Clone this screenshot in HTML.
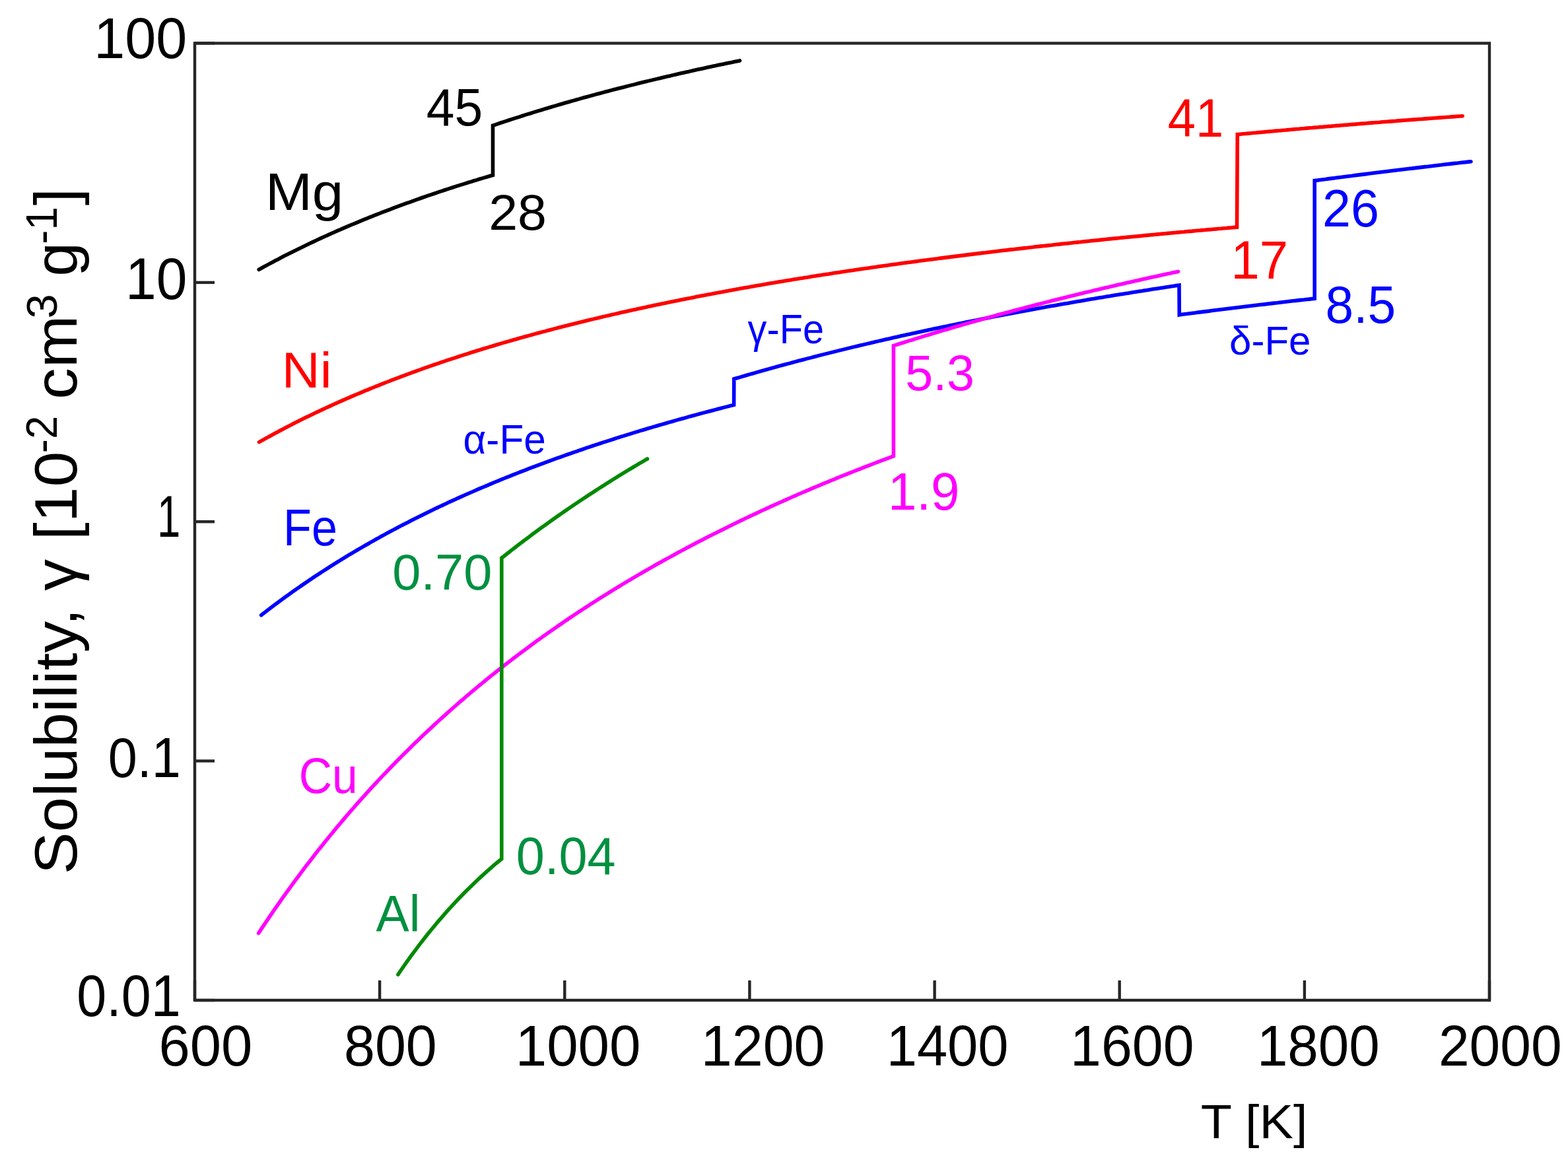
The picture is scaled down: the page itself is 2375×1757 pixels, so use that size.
<!DOCTYPE html><html><head><meta charset="utf-8"><style>html,body{margin:0;padding:0;background:#fff;}svg{display:block;}</style></head><body>
<svg width="2375" height="1757" viewBox="0 0 2375 1757">
<rect width="2375" height="1757" fill="#fff"/>
<g>
<polyline points="392.2,408.3 396.3,406.0 400.3,403.8 404.4,401.6 408.5,399.4 412.6,397.2 416.6,395.0 420.7,392.9 424.8,390.8 428.9,388.6 432.9,386.6 437.0,384.5 441.1,382.4 445.1,380.4 449.2,378.4 453.3,376.4 457.4,374.4 461.4,372.4 465.5,370.5 469.6,368.5 473.6,366.6 477.7,364.7 481.8,362.8 485.9,360.9 489.9,359.0 494.0,357.2 498.1,355.4 502.2,353.5 506.2,351.7 510.3,349.9 514.4,348.2 518.4,346.4 522.5,344.6 526.6,342.9 530.7,341.2 534.7,339.5 538.8,337.8 542.9,336.1 547.0,334.4 551.0,332.7 555.1,331.1 559.2,329.4 563.2,327.8 567.3,326.2 571.4,324.6 575.5,323.0 579.5,321.4 583.6,319.9 587.7,318.3 591.7,316.8 595.8,315.2 599.9,313.7 604.0,312.2 608.0,310.7 612.1,309.2 616.2,307.7 620.3,306.3 624.3,304.8 628.4,303.3 632.5,301.9 636.5,300.5 640.6,299.0 644.7,297.6 648.8,296.2 652.8,294.8 656.9,293.5 661.0,292.1 665.1,290.7 669.1,289.4 673.2,288.0 677.3,286.7 681.3,285.4 685.4,284.0 689.5,282.7 693.6,281.4 697.6,280.1 701.7,278.9 705.8,277.6 709.8,276.3 713.9,275.1 718.0,273.8 722.1,272.6 726.1,271.3 730.2,270.1 734.3,268.9 738.4,267.7 742.4,266.5 746.5,265.3 746.5,190.1 750.6,188.8 754.6,187.4 758.7,186.0 762.8,184.7 766.8,183.3 770.9,182.0 775.0,180.7 779.0,179.4 783.1,178.1 787.2,176.8 791.2,175.5 795.3,174.2 799.3,172.9 803.4,171.7 807.5,170.4 811.5,169.1 815.6,167.9 819.7,166.7 823.7,165.4 827.8,164.2 831.9,163.0 835.9,161.8 840.0,160.6 844.1,159.4 848.1,158.2 852.2,157.0 856.3,155.8 860.3,154.7 864.4,153.5 868.5,152.4 872.5,151.2 876.6,150.1 880.7,148.9 884.7,147.8 888.8,146.7 892.8,145.6 896.9,144.5 901.0,143.4 905.0,142.3 909.1,141.2 913.2,140.1 917.2,139.0 921.3,138.0 925.4,136.9 929.4,135.8 933.5,134.8 937.6,133.7 941.6,132.7 945.7,131.7 949.8,130.6 953.8,129.6 957.9,128.6 962.0,127.6 966.0,126.5 970.1,125.5 974.2,124.5 978.2,123.6 982.3,122.6 986.3,121.6 990.4,120.6 994.5,119.6 998.5,118.7 1002.6,117.7 1006.7,116.7 1010.7,115.8 1014.8,114.9 1018.9,113.9 1022.9,113.0 1027.0,112.0 1031.1,111.1 1035.1,110.2 1039.2,109.3 1043.3,108.4 1047.3,107.4 1051.4,106.5 1055.5,105.6 1059.5,104.8 1063.6,103.9 1067.7,103.0 1071.7,102.1 1075.8,101.2 1079.8,100.3 1083.9,99.5 1088.0,98.6 1092.0,97.8 1096.1,96.9 1100.2,96.0 1104.2,95.2 1108.3,94.4 1112.4,93.5 1116.4,92.7 1120.5,91.9" fill="none" stroke="#000000" stroke-width="5.6" stroke-linejoin="miter" stroke-linecap="round"/>
<polyline points="392.5,669.6 396.5,667.4 400.5,665.1 404.5,662.9 408.6,660.7 412.6,658.5 416.6,656.3 420.6,654.2 424.6,652.0 428.6,649.9 432.6,647.8 436.6,645.7 440.7,643.7 444.7,641.6 448.7,639.6 452.7,637.6 456.7,635.6 460.7,633.6 464.7,631.6 468.8,629.7 472.8,627.7 476.8,625.8 480.8,623.9 484.8,622.0 488.8,620.1 492.8,618.3 496.9,616.4 500.9,614.6 504.9,612.8 508.9,610.9 512.9,609.2 516.9,607.4 520.9,605.6 524.9,603.8 529.0,602.1 533.0,600.4 537.0,598.7 541.0,597.0 545.0,595.3 549.0,593.6 553.0,591.9 557.1,590.3 561.1,588.6 565.1,587.0 569.1,585.4 573.1,583.8 577.1,582.2 581.1,580.6 585.2,579.0 589.2,577.5 593.2,575.9 597.2,574.4 601.2,572.9 605.2,571.3 609.2,569.8 613.2,568.3 617.3,566.9 621.3,565.4 625.3,563.9 629.3,562.5 633.3,561.0 637.3,559.6 641.3,558.2 645.4,556.7 649.4,555.3 653.4,553.9 657.4,552.5 661.4,551.2 665.4,549.8 669.4,548.4 673.4,547.1 677.5,545.7 681.5,544.4 685.5,543.1 689.5,541.8 693.5,540.5 697.5,539.2 701.5,537.9 705.6,536.6 709.6,535.3 713.6,534.0 717.6,532.8 721.6,531.5 725.6,530.3 729.6,529.0 733.7,527.8 737.7,526.6 741.7,525.4 745.7,524.2 749.7,523.0 753.7,521.8 757.7,520.6 761.7,519.4 765.8,518.3 769.8,517.1 773.8,516.0 777.8,514.8 781.8,513.7 785.8,512.5 789.8,511.4 793.9,510.3 797.9,509.2 801.9,508.1 805.9,507.0 809.9,505.9 813.9,504.8 817.9,503.7 821.9,502.6 826.0,501.6 830.0,500.5 834.0,499.5 838.0,498.4 842.0,497.4 846.0,496.3 850.0,495.3 854.1,494.3 858.1,493.3 862.1,492.2 866.1,491.2 870.1,490.2 874.1,489.2 878.1,488.2 882.2,487.3 886.2,486.3 890.2,485.3 894.2,484.3 898.2,483.4 902.2,482.4 906.2,481.5 910.2,480.5 914.3,479.6 918.3,478.6 922.3,477.7 926.3,476.8 930.3,475.9 934.3,474.9 938.3,474.0 942.4,473.1 946.4,472.2 950.4,471.3 954.4,470.4 958.4,469.5 962.4,468.7 966.4,467.8 970.5,466.9 974.5,466.0 978.5,465.2 982.5,464.3 986.5,463.5 990.5,462.6 994.5,461.8 998.5,460.9 1002.6,460.1 1006.6,459.3 1010.6,458.4 1014.6,457.6 1018.6,456.8 1022.6,456.0 1026.6,455.2 1030.7,454.3 1034.7,453.5 1038.7,452.7 1042.7,451.9 1046.7,451.2 1050.7,450.4 1054.7,449.6 1058.7,448.8 1062.8,448.0 1066.8,447.3 1070.8,446.5 1074.8,445.7 1078.8,445.0 1082.8,444.2 1086.8,443.5 1090.9,442.7 1094.9,442.0 1098.9,441.2 1102.9,440.5 1106.9,439.7 1110.9,439.0 1114.9,438.3 1119.0,437.6 1123.0,436.8 1127.0,436.1 1131.0,435.4 1135.0,434.7 1139.0,434.0 1143.0,433.3 1147.0,432.6 1151.1,431.9 1155.1,431.2 1159.1,430.5 1163.1,429.8 1167.1,429.1 1171.1,428.4 1175.1,427.8 1179.2,427.1 1183.2,426.4 1187.2,425.8 1191.2,425.1 1195.2,424.4 1199.2,423.8 1203.2,423.1 1207.3,422.5 1211.3,421.8 1215.3,421.2 1219.3,420.5 1223.3,419.9 1227.3,419.2 1231.3,418.6 1235.3,418.0 1239.4,417.3 1243.4,416.7 1247.4,416.1 1251.4,415.5 1255.4,414.9 1259.4,414.2 1263.4,413.6 1267.5,413.0 1271.5,412.4 1275.5,411.8 1279.5,411.2 1283.5,410.6 1287.5,410.0 1291.5,409.4 1295.5,408.8 1299.6,408.2 1303.6,407.6 1307.6,407.1 1311.6,406.5 1315.6,405.9 1319.6,405.3 1323.6,404.7 1327.7,404.2 1331.7,403.6 1335.7,403.0 1339.7,402.5 1343.7,401.9 1347.7,401.3 1351.7,400.8 1355.8,400.2 1359.8,399.7 1363.8,399.1 1367.8,398.6 1371.8,398.0 1375.8,397.5 1379.8,397.0 1383.8,396.4 1387.9,395.9 1391.9,395.3 1395.9,394.8 1399.9,394.3 1403.9,393.8 1407.9,393.2 1411.9,392.7 1416.0,392.2 1420.0,391.7 1424.0,391.1 1428.0,390.6 1432.0,390.1 1436.0,389.6 1440.0,389.1 1444.1,388.6 1448.1,388.1 1452.1,387.6 1456.1,387.1 1460.1,386.6 1464.1,386.1 1468.1,385.6 1472.1,385.1 1476.2,384.6 1480.2,384.1 1484.2,383.6 1488.2,383.1 1492.2,382.7 1496.2,382.2 1500.2,381.7 1504.3,381.2 1508.3,380.8 1512.3,380.3 1516.3,379.8 1520.3,379.3 1524.3,378.9 1528.3,378.4 1532.3,377.9 1536.4,377.5 1540.4,377.0 1544.4,376.6 1548.4,376.1 1552.4,375.6 1556.4,375.2 1560.4,374.7 1564.5,374.3 1568.5,373.8 1572.5,373.4 1576.5,372.9 1580.5,372.5 1584.5,372.1 1588.5,371.6 1592.6,371.2 1596.6,370.7 1600.6,370.3 1604.6,369.9 1608.6,369.4 1612.6,369.0 1616.6,368.6 1620.6,368.2 1624.7,367.7 1628.7,367.3 1632.7,366.9 1636.7,366.5 1640.7,366.0 1644.7,365.6 1648.7,365.2 1652.8,364.8 1656.8,364.4 1660.8,364.0 1664.8,363.6 1668.8,363.1 1672.8,362.7 1676.8,362.3 1680.8,361.9 1684.9,361.5 1688.9,361.1 1692.9,360.7 1696.9,360.3 1700.9,359.9 1704.9,359.5 1708.9,359.1 1713.0,358.7 1717.0,358.4 1721.0,358.0 1725.0,357.6 1729.0,357.2 1733.0,356.8 1737.0,356.4 1741.1,356.0 1745.1,355.6 1749.1,355.3 1753.1,354.9 1757.1,354.5 1761.1,354.1 1765.1,353.8 1769.1,353.4 1773.2,353.0 1777.2,352.6 1781.2,352.3 1785.2,351.9 1789.2,351.5 1793.2,351.2 1797.2,350.8 1801.3,350.4 1805.3,350.1 1809.3,349.7 1813.3,349.3 1817.3,349.0 1821.3,348.6 1825.3,348.3 1829.4,347.9 1833.4,347.6 1837.4,347.2 1841.4,346.9 1845.4,346.5 1849.4,346.2 1853.4,345.8 1857.4,345.5 1861.5,345.1 1865.5,344.8 1869.5,344.4 1873.5,344.1 1874.3,203.6 1878.4,203.2 1882.4,202.8 1886.5,202.5 1890.5,202.1 1894.6,201.7 1898.7,201.3 1902.7,201.0 1906.8,200.6 1910.8,200.2 1914.9,199.9 1919.0,199.5 1923.0,199.1 1927.1,198.8 1931.1,198.4 1935.2,198.0 1939.3,197.7 1943.3,197.3 1947.4,197.0 1951.4,196.6 1955.5,196.3 1959.5,195.9 1963.6,195.5 1967.7,195.2 1971.7,194.8 1975.8,194.5 1979.8,194.1 1983.9,193.8 1988.0,193.5 1992.0,193.1 1996.1,192.8 2000.1,192.4 2004.2,192.1 2008.3,191.7 2012.3,191.4 2016.4,191.1 2020.4,190.7 2024.5,190.4 2028.6,190.1 2032.6,189.7 2036.7,189.4 2040.7,189.1 2044.8,188.7 2048.9,188.4 2052.9,188.1 2057.0,187.7 2061.0,187.4 2065.1,187.1 2069.2,186.8 2073.2,186.4 2077.3,186.1 2081.3,185.8 2085.4,185.5 2089.5,185.2 2093.5,184.8 2097.6,184.5 2101.6,184.2 2105.7,183.9 2109.8,183.6 2113.8,183.3 2117.9,182.9 2121.9,182.6 2126.0,182.3 2130.1,182.0 2134.1,181.7 2138.2,181.4 2142.2,181.1 2146.3,180.8 2150.3,180.5 2154.4,180.2 2158.5,179.9 2162.5,179.6 2166.6,179.3 2170.6,179.0 2174.7,178.7 2178.8,178.4 2182.8,178.1 2186.9,177.8 2190.9,177.5 2195.0,177.2 2199.1,176.9 2203.1,176.6 2207.2,176.3 2211.2,176.0 2215.3,175.7" fill="none" stroke="#ff0000" stroke-width="5.6" stroke-linejoin="miter" stroke-linecap="round"/>
<polyline points="395.7,931.8 399.7,928.6 403.8,925.5 407.8,922.4 411.9,919.3 415.9,916.3 420.0,913.3 424.0,910.3 428.1,907.3 432.1,904.3 436.1,901.4 440.2,898.5 444.2,895.6 448.3,892.8 452.3,890.0 456.4,887.1 460.4,884.4 464.5,881.6 468.5,878.9 472.5,876.1 476.6,873.4 480.6,870.8 484.7,868.1 488.7,865.5 492.8,862.9 496.8,860.3 500.9,857.7 504.9,855.1 508.9,852.6 513.0,850.1 517.0,847.6 521.1,845.1 525.1,842.7 529.2,840.2 533.2,837.8 537.3,835.4 541.3,833.0 545.4,830.7 549.4,828.3 553.4,826.0 557.5,823.7 561.5,821.4 565.6,819.1 569.6,816.8 573.7,814.6 577.7,812.3 581.8,810.1 585.8,807.9 589.8,805.7 593.9,803.6 597.9,801.4 602.0,799.3 606.0,797.1 610.1,795.0 614.1,792.9 618.2,790.9 622.2,788.8 626.2,786.7 630.3,784.7 634.3,782.7 638.4,780.7 642.4,778.7 646.5,776.7 650.5,774.7 654.6,772.8 658.6,770.8 662.6,768.9 666.7,767.0 670.7,765.1 674.8,763.2 678.8,761.3 682.9,759.4 686.9,757.6 691.0,755.8 695.0,753.9 699.0,752.1 703.1,750.3 707.1,748.5 711.2,746.7 715.2,745.0 719.3,743.2 723.3,741.4 727.4,739.7 731.4,738.0 735.4,736.3 739.5,734.6 743.5,732.9 747.6,731.2 751.6,729.5 755.7,727.8 759.7,726.2 763.8,724.5 767.8,722.9 771.9,721.3 775.9,719.7 779.9,718.1 784.0,716.5 788.0,714.9 792.1,713.3 796.1,711.8 800.2,710.2 804.2,708.7 808.3,707.1 812.3,705.6 816.3,704.1 820.4,702.6 824.4,701.1 828.5,699.6 832.5,698.1 836.6,696.6 840.6,695.2 844.7,693.7 848.7,692.3 852.7,690.8 856.8,689.4 860.8,688.0 864.9,686.6 868.9,685.1 873.0,683.8 877.0,682.4 881.1,681.0 885.1,679.6 889.1,678.2 893.2,676.9 897.2,675.5 901.3,674.2 905.3,672.8 909.4,671.5 913.4,670.2 917.5,668.9 921.5,667.6 925.5,666.3 929.6,665.0 933.6,663.7 937.7,662.4 941.7,661.1 945.8,659.9 949.8,658.6 953.9,657.4 957.9,656.1 961.9,654.9 966.0,653.6 970.0,652.4 974.1,651.2 978.1,650.0 982.2,648.8 986.2,647.6 990.3,646.4 994.3,645.2 998.4,644.0 1002.4,642.9 1006.4,641.7 1010.5,640.5 1014.5,639.4 1018.6,638.2 1022.6,637.1 1026.7,635.9 1030.7,634.8 1034.8,633.7 1038.8,632.6 1042.8,631.4 1046.9,630.3 1050.9,629.2 1055.0,628.1 1059.0,627.0 1063.1,625.9 1067.1,624.9 1071.2,623.8 1075.2,622.7 1079.2,621.7 1083.3,620.6 1087.3,619.5 1091.4,618.5 1095.4,617.4 1099.5,616.4 1103.5,615.4 1107.6,614.3 1111.6,613.3 1111.8,573.9 1115.8,572.7 1119.9,571.6 1123.9,570.4 1127.9,569.2 1132.0,568.0 1136.0,566.9 1140.1,565.7 1144.1,564.6 1148.1,563.4 1152.2,562.3 1156.2,561.1 1160.2,560.0 1164.3,558.9 1168.3,557.8 1172.4,556.6 1176.4,555.5 1180.4,554.4 1184.5,553.3 1188.5,552.2 1192.5,551.1 1196.6,550.1 1200.6,549.0 1204.7,547.9 1208.7,546.8 1212.7,545.8 1216.8,544.7 1220.8,543.6 1224.8,542.6 1228.9,541.6 1232.9,540.5 1237.0,539.5 1241.0,538.4 1245.0,537.4 1249.1,536.4 1253.1,535.4 1257.1,534.4 1261.2,533.4 1265.2,532.4 1269.2,531.4 1273.3,530.4 1277.3,529.4 1281.4,528.4 1285.4,527.4 1289.4,526.4 1293.5,525.4 1297.5,524.5 1301.5,523.5 1305.6,522.6 1309.6,521.6 1313.7,520.6 1317.7,519.7 1321.7,518.8 1325.8,517.8 1329.8,516.9 1333.8,515.9 1337.9,515.0 1341.9,514.1 1346.0,513.2 1350.0,512.3 1354.0,511.3 1358.1,510.4 1362.1,509.5 1366.1,508.6 1370.2,507.7 1374.2,506.8 1378.3,506.0 1382.3,505.1 1386.3,504.2 1390.4,503.3 1394.4,502.4 1398.4,501.6 1402.5,500.7 1406.5,499.8 1410.5,499.0 1414.6,498.1 1418.6,497.3 1422.7,496.4 1426.7,495.6 1430.7,494.7 1434.8,493.9 1438.8,493.0 1442.8,492.2 1446.9,491.4 1450.9,490.6 1455.0,489.7 1459.0,488.9 1463.0,488.1 1467.1,487.3 1471.1,486.5 1475.1,485.7 1479.2,484.9 1483.2,484.1 1487.3,483.3 1491.3,482.5 1495.3,481.7 1499.4,480.9 1503.4,480.1 1507.4,479.3 1511.5,478.6 1515.5,477.8 1519.5,477.0 1523.6,476.3 1527.6,475.5 1531.7,474.7 1535.7,474.0 1539.7,473.2 1543.8,472.5 1547.8,471.7 1551.8,471.0 1555.9,470.2 1559.9,469.5 1564.0,468.7 1568.0,468.0 1572.0,467.3 1576.1,466.5 1580.1,465.8 1584.1,465.1 1588.2,464.3 1592.2,463.6 1596.3,462.9 1600.3,462.2 1604.3,461.5 1608.4,460.8 1612.4,460.1 1616.4,459.4 1620.5,458.7 1624.5,458.0 1628.6,457.3 1632.6,456.6 1636.6,455.9 1640.7,455.2 1644.7,454.5 1648.7,453.8 1652.8,453.1 1656.8,452.5 1660.8,451.8 1664.9,451.1 1668.9,450.4 1673.0,449.8 1677.0,449.1 1681.0,448.5 1685.1,447.8 1689.1,447.1 1693.1,446.5 1697.2,445.8 1701.2,445.2 1705.3,444.5 1709.3,443.9 1713.3,443.2 1717.4,442.6 1721.4,441.9 1725.4,441.3 1729.5,440.7 1733.5,440.0 1737.6,439.4 1741.6,438.8 1745.6,438.1 1749.7,437.5 1753.7,436.9 1757.7,436.3 1761.8,435.7 1765.8,435.0 1769.9,434.4 1773.9,433.8 1777.9,433.2 1782.0,432.6 1786.0,432.0 1786.3,476.9 1790.4,476.3 1794.5,475.8 1798.6,475.3 1802.7,474.7 1806.8,474.2 1810.9,473.7 1815.0,473.1 1819.1,472.6 1823.2,472.1 1827.3,471.6 1831.4,471.1 1835.5,470.5 1839.6,470.0 1843.7,469.5 1847.8,469.0 1851.9,468.5 1856.0,468.0 1860.1,467.5 1864.2,467.0 1868.3,466.5 1872.4,466.0 1876.5,465.5 1880.6,465.0 1884.7,464.5 1888.8,464.0 1892.8,463.5 1896.9,463.0 1901.0,462.5 1905.1,462.0 1909.2,461.5 1913.3,461.1 1917.4,460.6 1921.5,460.1 1925.6,459.6 1929.7,459.1 1933.8,458.7 1937.9,458.2 1942.0,457.7 1946.1,457.2 1950.2,456.8 1954.3,456.3 1958.4,455.8 1962.5,455.4 1966.6,454.9 1970.7,454.4 1974.8,454.0 1978.9,453.5 1983.0,453.1 1987.1,452.6 1991.2,452.2 1991.2,273.6 1995.3,273.1 1999.4,272.5 2003.4,272.0 2007.5,271.5 2011.6,270.9 2015.7,270.4 2019.8,269.9 2023.9,269.3 2027.9,268.8 2032.0,268.3 2036.1,267.7 2040.2,267.2 2044.3,266.7 2048.4,266.2 2052.4,265.6 2056.5,265.1 2060.6,264.6 2064.7,264.1 2068.8,263.6 2072.9,263.1 2076.9,262.5 2081.0,262.0 2085.1,261.5 2089.2,261.0 2093.3,260.5 2097.4,260.0 2101.4,259.5 2105.5,259.0 2109.6,258.5 2113.7,258.0 2117.8,257.5 2121.8,257.0 2125.9,256.5 2130.0,256.0 2134.1,255.5 2138.2,255.1 2142.3,254.6 2146.3,254.1 2150.4,253.6 2154.5,253.1 2158.6,252.6 2162.7,252.2 2166.8,251.7 2170.8,251.2 2174.9,250.7 2179.0,250.2 2183.1,249.8 2187.2,249.3 2191.3,248.8 2195.3,248.4 2199.4,247.9 2203.5,247.4 2207.6,247.0 2211.7,246.5 2215.8,246.0 2219.8,245.6 2223.9,245.1 2228.0,244.7" fill="none" stroke="#0000ff" stroke-width="5.6" stroke-linejoin="miter" stroke-linecap="round"/>
<polyline points="391.6,1413.5 395.6,1407.4 399.6,1401.4 403.7,1395.4 407.7,1389.4 411.7,1383.5 415.7,1377.7 419.8,1371.9 423.8,1366.1 427.8,1360.4 431.8,1354.8 435.9,1349.2 439.9,1343.6 443.9,1338.1 447.9,1332.6 452.0,1327.2 456.0,1321.8 460.0,1316.4 464.0,1311.1 468.1,1305.9 472.1,1300.7 476.1,1295.5 480.1,1290.3 484.2,1285.3 488.2,1280.2 492.2,1275.2 496.2,1270.2 500.3,1265.3 504.3,1260.4 508.3,1255.5 512.3,1250.7 516.4,1245.9 520.4,1241.1 524.4,1236.4 528.4,1231.7 532.4,1227.1 536.5,1222.5 540.5,1217.9 544.5,1213.3 548.5,1208.8 552.6,1204.4 556.6,1199.9 560.6,1195.5 564.6,1191.1 568.7,1186.8 572.7,1182.4 576.7,1178.2 580.7,1173.9 584.8,1169.7 588.8,1165.5 592.8,1161.3 596.8,1157.2 600.9,1153.1 604.9,1149.0 608.9,1144.9 612.9,1140.9 617.0,1136.9 621.0,1132.9 625.0,1129.0 629.0,1125.1 633.1,1121.2 637.1,1117.3 641.1,1113.5 645.1,1109.7 649.2,1105.9 653.2,1102.2 657.2,1098.4 661.2,1094.7 665.3,1091.0 669.3,1087.4 673.3,1083.8 677.3,1080.1 681.3,1076.6 685.4,1073.0 689.4,1069.5 693.4,1065.9 697.4,1062.4 701.5,1059.0 705.5,1055.5 709.5,1052.1 713.5,1048.7 717.6,1045.3 721.6,1041.9 725.6,1038.6 729.6,1035.3 733.7,1032.0 737.7,1028.7 741.7,1025.5 745.7,1022.2 749.8,1019.0 753.8,1015.8 757.8,1012.6 761.8,1009.5 765.9,1006.3 769.9,1003.2 773.9,1000.1 777.9,997.0 782.0,994.0 786.0,990.9 790.0,987.9 794.0,984.9 798.1,981.9 802.1,978.9 806.1,976.0 810.1,973.0 814.1,970.1 818.2,967.2 822.2,964.3 826.2,961.5 830.2,958.6 834.3,955.8 838.3,953.0 842.3,950.2 846.3,947.4 850.4,944.6 854.4,941.8 858.4,939.1 862.4,936.4 866.5,933.7 870.5,931.0 874.5,928.3 878.5,925.7 882.6,923.0 886.6,920.4 890.6,917.8 894.6,915.2 898.7,912.6 902.7,910.0 906.7,907.4 910.7,904.9 914.8,902.4 918.8,899.9 922.8,897.4 926.8,894.9 930.9,892.4 934.9,889.9 938.9,887.5 942.9,885.0 946.9,882.6 951.0,880.2 955.0,877.8 959.0,875.4 963.0,873.1 967.1,870.7 971.1,868.4 975.1,866.0 979.1,863.7 983.2,861.4 987.2,859.1 991.2,856.8 995.2,854.5 999.3,852.3 1003.3,850.0 1007.3,847.8 1011.3,845.6 1015.4,843.4 1019.4,841.2 1023.4,839.0 1027.4,836.8 1031.5,834.6 1035.5,832.5 1039.5,830.3 1043.5,828.2 1047.6,826.0 1051.6,823.9 1055.6,821.8 1059.6,819.7 1063.7,817.7 1067.7,815.6 1071.7,813.5 1075.7,811.5 1079.7,809.4 1083.8,807.4 1087.8,805.4 1091.8,803.4 1095.8,801.4 1099.9,799.4 1103.9,797.4 1107.9,795.4 1111.9,793.4 1116.0,791.5 1120.0,789.5 1124.0,787.6 1128.0,785.7 1132.1,783.8 1136.1,781.9 1140.1,780.0 1144.1,778.1 1148.2,776.2 1152.2,774.3 1156.2,772.5 1160.2,770.6 1164.3,768.8 1168.3,766.9 1172.3,765.1 1176.3,763.3 1180.4,761.5 1184.4,759.7 1188.4,757.9 1192.4,756.1 1196.5,754.3 1200.5,752.5 1204.5,750.8 1208.5,749.0 1212.6,747.3 1216.6,745.5 1220.6,743.8 1224.6,742.1 1228.6,740.4 1232.7,738.7 1236.7,737.0 1240.7,735.3 1244.7,733.6 1248.8,731.9 1252.8,730.3 1256.8,728.6 1260.8,727.0 1264.9,725.3 1268.9,723.7 1272.9,722.0 1276.9,720.4 1281.0,718.8 1285.0,717.2 1289.0,715.6 1293.0,714.0 1297.1,712.4 1301.1,710.8 1305.1,709.3 1309.1,707.7 1313.2,706.1 1317.2,704.6 1321.2,703.0 1325.2,701.5 1329.3,699.9 1333.3,698.4 1337.3,696.9 1341.3,695.4 1345.4,693.9 1349.4,692.4 1353.4,690.9 1353.4,523.6 1357.5,522.3 1361.5,521.0 1365.6,519.7 1369.7,518.5 1373.7,517.2 1377.8,515.9 1381.9,514.7 1385.9,513.4 1390.0,512.1 1394.1,510.9 1398.1,509.6 1402.2,508.4 1406.3,507.2 1410.3,506.0 1414.4,504.7 1418.5,503.5 1422.5,502.3 1426.6,501.1 1430.7,499.9 1434.7,498.7 1438.8,497.5 1442.9,496.3 1446.9,495.1 1451.0,494.0 1455.1,492.8 1459.1,491.6 1463.2,490.4 1467.3,489.3 1471.3,488.1 1475.4,487.0 1479.5,485.8 1483.5,484.7 1487.6,483.6 1491.7,482.4 1495.7,481.3 1499.8,480.2 1503.9,479.1 1507.9,478.0 1512.0,476.8 1516.1,475.7 1520.1,474.6 1524.2,473.5 1528.3,472.5 1532.3,471.4 1536.4,470.3 1540.5,469.2 1544.5,468.1 1548.6,467.1 1552.7,466.0 1556.7,464.9 1560.8,463.9 1564.9,462.8 1569.0,461.8 1573.0,460.7 1577.1,459.7 1581.2,458.6 1585.2,457.6 1589.3,456.6 1593.4,455.5 1597.4,454.5 1601.5,453.5 1605.6,452.5 1609.6,451.5 1613.7,450.5 1617.8,449.5 1621.8,448.5 1625.9,447.5 1630.0,446.5 1634.0,445.5 1638.1,444.5 1642.2,443.5 1646.2,442.6 1650.3,441.6 1654.4,440.6 1658.4,439.6 1662.5,438.7 1666.6,437.7 1670.6,436.8 1674.7,435.8 1678.8,434.9 1682.8,433.9 1686.9,433.0 1691.0,432.0 1695.0,431.1 1699.1,430.2 1703.2,429.2 1707.2,428.3 1711.3,427.4 1715.4,426.5 1719.4,425.6 1723.5,424.7 1727.6,423.7 1731.6,422.8 1735.7,421.9 1739.8,421.0 1743.8,420.1 1747.9,419.3 1752.0,418.4 1756.0,417.5 1760.1,416.6 1764.2,415.7 1768.2,414.8 1772.3,414.0 1776.4,413.1 1780.4,412.2 1784.5,411.4" fill="none" stroke="#ff00ff" stroke-width="5.6" stroke-linejoin="miter" stroke-linecap="round"/>
<polyline points="602.9,1476.1 607.0,1470.0 611.2,1464.0 615.3,1458.2 619.4,1452.4 623.5,1446.7 627.7,1441.1 631.8,1435.6 635.9,1430.1 640.1,1424.8 644.2,1419.5 648.3,1414.3 652.4,1409.2 656.6,1404.2 660.7,1399.2 664.8,1394.4 669.0,1389.6 673.1,1384.9 677.2,1380.2 681.3,1375.6 685.5,1371.1 689.6,1366.7 693.7,1362.3 697.9,1358.0 702.0,1353.8 706.1,1349.6 710.3,1345.5 714.4,1341.4 718.5,1337.5 722.6,1333.5 726.8,1329.7 730.9,1325.9 735.0,1322.1 739.2,1318.4 743.3,1314.8 747.4,1311.2 751.5,1307.7 755.7,1304.3 759.8,1300.9 759.8,845.2 763.9,842.0 768.0,838.7 772.1,835.5 776.1,832.4 780.2,829.2 784.3,826.1 788.4,822.9 792.5,819.8 796.6,816.7 800.7,813.7 804.8,810.6 808.8,807.6 812.9,804.6 817.0,801.6 821.1,798.6 825.2,795.7 829.3,792.7 833.4,789.8 837.5,786.9 841.5,784.0 845.6,781.1 849.7,778.3 853.8,775.4 857.9,772.6 862.0,769.8 866.1,767.0 870.1,764.2 874.2,761.5 878.3,758.7 882.4,756.0 886.5,753.3 890.6,750.6 894.7,747.9 898.8,745.3 902.8,742.6 906.9,740.0 911.0,737.4 915.1,734.8 919.2,732.2 923.3,729.6 927.4,727.0 931.5,724.5 935.5,721.9 939.6,719.4 943.7,716.9 947.8,714.4 951.9,711.9 956.0,709.5 960.1,707.0 964.2,704.6 968.2,702.2 972.3,699.8 976.4,697.4 980.5,695.0" fill="none" stroke="#008a00" stroke-width="5.6" stroke-linejoin="miter" stroke-linecap="round"/>
<rect x="295.0" y="65.5" width="1961.0" height="1449.5" fill="none" stroke="#262626" stroke-width="4.4"/>
<line x1="295.0" y1="65.5" x2="325.0" y2="65.5" stroke="#262626" stroke-width="4.4"/>
<line x1="295.0" y1="427.9" x2="325.0" y2="427.9" stroke="#262626" stroke-width="4.4"/>
<line x1="295.0" y1="790.2" x2="325.0" y2="790.2" stroke="#262626" stroke-width="4.4"/>
<line x1="295.0" y1="1152.6" x2="325.0" y2="1152.6" stroke="#262626" stroke-width="4.4"/>
<line x1="295.0" y1="1515.0" x2="325.0" y2="1515.0" stroke="#262626" stroke-width="4.4"/>
<line x1="295.0" y1="1515.0" x2="295.0" y2="1485.0" stroke="#262626" stroke-width="4.4"/>
<line x1="575.1" y1="1515.0" x2="575.1" y2="1485.0" stroke="#262626" stroke-width="4.4"/>
<line x1="855.3" y1="1515.0" x2="855.3" y2="1485.0" stroke="#262626" stroke-width="4.4"/>
<line x1="1135.4" y1="1515.0" x2="1135.4" y2="1485.0" stroke="#262626" stroke-width="4.4"/>
<line x1="1415.6" y1="1515.0" x2="1415.6" y2="1485.0" stroke="#262626" stroke-width="4.4"/>
<line x1="1695.7" y1="1515.0" x2="1695.7" y2="1485.0" stroke="#262626" stroke-width="4.4"/>
<line x1="1975.9" y1="1515.0" x2="1975.9" y2="1485.0" stroke="#262626" stroke-width="4.4"/>
<line x1="2256.0" y1="1515.0" x2="2256.0" y2="1485.0" stroke="#262626" stroke-width="4.4"/>
<text transform="matrix(0.8452 0 0 0.8732 142.24 88.13)" font-family="Liberation Sans, Arial, sans-serif" font-size="100" fill="#000">100</text>
<text transform="matrix(0.8394 0 0 0.8831 189.98 452.72)" font-family="Liberation Sans, Arial, sans-serif" font-size="100" fill="#000">10</text>
<text transform="matrix(0.6349 0 0 0.8884 237.92 813.20)" font-family="Liberation Sans, Arial, sans-serif" font-size="100" fill="#000">1</text>
<text transform="matrix(0.7923 0 0 0.8437 163.73 1177.16)" font-family="Liberation Sans, Arial, sans-serif" font-size="100" fill="#000">0.1</text>
<text transform="matrix(0.8086 0 0 0.8831 116.27 1539.22)" font-family="Liberation Sans, Arial, sans-serif" font-size="100" fill="#000">0.01</text>
<text transform="matrix(0.8500 0 0 0.8789 240.55 1613.92)" font-family="Liberation Sans, Arial, sans-serif" font-size="100" fill="#000">600</text>
<text transform="matrix(0.8447 0 0 0.8789 520.92 1613.92)" font-family="Liberation Sans, Arial, sans-serif" font-size="100" fill="#000">800</text>
<text transform="matrix(0.8529 0 0 0.8789 780.78 1613.92)" font-family="Liberation Sans, Arial, sans-serif" font-size="100" fill="#000">1000</text>
<text transform="matrix(0.8443 0 0 0.8789 1061.75 1613.92)" font-family="Liberation Sans, Arial, sans-serif" font-size="100" fill="#000">1200</text>
<text transform="matrix(0.8314 0 0 0.8789 1342.65 1613.92)" font-family="Liberation Sans, Arial, sans-serif" font-size="100" fill="#000">1400</text>
<text transform="matrix(0.8429 0 0 0.8789 1621.06 1613.92)" font-family="Liberation Sans, Arial, sans-serif" font-size="100" fill="#000">1600</text>
<text transform="matrix(0.8352 0 0 0.8789 1903.92 1613.92)" font-family="Liberation Sans, Arial, sans-serif" font-size="100" fill="#000">1800</text>
<text transform="matrix(0.8394 0 0 0.8789 2178.90 1613.92)" font-family="Liberation Sans, Arial, sans-serif" font-size="100" fill="#000">2000</text>
<text transform="matrix(0.7725 0 0 0.7202 1818.86 1724.28)" font-family="Liberation Sans, Arial, sans-serif" font-size="100" fill="#000">T [K]</text>
<text transform="matrix(0.8516 0 0 0.7928 401.89 318.10)" font-family="Liberation Sans, Arial, sans-serif" font-size="100" fill="#000">Mg</text>
<text transform="matrix(0.7676 0 0 0.7943 645.86 190.01)" font-family="Liberation Sans, Arial, sans-serif" font-size="100" fill="#000">45</text>
<text transform="matrix(0.7902 0 0 0.7563 740.15 347.64)" font-family="Liberation Sans, Arial, sans-serif" font-size="100" fill="#000">28</text>
<text transform="matrix(0.7587 0 0 0.8174 1768.78 206.60)" font-family="Liberation Sans, Arial, sans-serif" font-size="100" fill="#ff0000">41</text>
<text transform="matrix(0.7776 0 0 0.8101 1864.58 422.20)" font-family="Liberation Sans, Arial, sans-serif" font-size="100" fill="#ff0000">17</text>
<text transform="matrix(0.7725 0 0 0.7873 2002.94 342.61)" font-family="Liberation Sans, Arial, sans-serif" font-size="100" fill="#0000ff">26</text>
<text transform="matrix(0.7664 0 0 0.7873 2007.53 488.81)" font-family="Liberation Sans, Arial, sans-serif" font-size="100" fill="#0000ff">8.5</text>
<text transform="matrix(0.6000 0 0 0.6072 1862.00 536.60)" font-family="Liberation Sans, Arial, sans-serif" font-size="100" fill="#0000ff">δ-Fe</text>
<text transform="matrix(0.8013 0 0 0.7630 426.79 587.00)" font-family="Liberation Sans, Arial, sans-serif" font-size="100" fill="#ff0000">Ni</text>
<text transform="matrix(0.7010 0 0 0.7814 429.09 826.22)" font-family="Liberation Sans, Arial, sans-serif" font-size="100" fill="#0000ff">Fe</text>
<text transform="matrix(0.6030 0 0 0.6232 701.49 686.90)" font-family="Liberation Sans, Arial, sans-serif" font-size="100" fill="#0000ff">α-Fe</text>
<text transform="matrix(0.5769 0 0 0.6261 1132.62 519.50)" font-family="Liberation Sans, Arial, sans-serif" font-size="100" fill="#0000ff">γ-Fe</text>
<text transform="matrix(0.7534 0 0 0.7592 1371.29 591.04)" font-family="Liberation Sans, Arial, sans-serif" font-size="100" fill="#ff00ff">5.3</text>
<text transform="matrix(0.7802 0 0 0.7873 1344.96 772.11)" font-family="Liberation Sans, Arial, sans-serif" font-size="100" fill="#ff00ff">1.9</text>
<text transform="matrix(0.7759 0 0 0.7606 594.30 892.74)" font-family="Liberation Sans, Arial, sans-serif" font-size="100" fill="#009040">0.70</text>
<text transform="matrix(0.6957 0 0 0.7676 452.82 1200.93)" font-family="Liberation Sans, Arial, sans-serif" font-size="100" fill="#ff00ff">Cu</text>
<text transform="matrix(0.7537 0 0 0.7863 569.40 1411.30)" font-family="Liberation Sans, Arial, sans-serif" font-size="100" fill="#009040">Al</text>
<text transform="matrix(0.7750 0 0 0.7901 781.80 1323.51)" font-family="Liberation Sans, Arial, sans-serif" font-size="100" fill="#009040">0.04</text>
<text transform="rotate(-90)" font-family="Liberation Sans, Arial, sans-serif" fill="#000"><tspan x="-1324.29" y="116.00" font-size="91.59" textLength="477.42" lengthAdjust="spacingAndGlyphs">Solubility, γ</tspan> <tspan x="-818.18" y="116.00" font-size="91.59" textLength="134.56" lengthAdjust="spacingAndGlyphs">[10</tspan><tspan x="-686.24" y="86.30" font-size="66.14" textLength="56.47" lengthAdjust="spacingAndGlyphs">-2</tspan> <tspan x="-604.70" y="116.00" font-size="91.59" textLength="126.81" lengthAdjust="spacingAndGlyphs">cm</tspan><tspan x="-482.48" y="85.65" font-size="65.21" textLength="37.28" lengthAdjust="spacingAndGlyphs">3</tspan> <tspan x="-418.72" y="116.00" font-size="91.59" textLength="51.67" lengthAdjust="spacingAndGlyphs">g</tspan><tspan x="-369.75" y="86.30" font-size="66.67" textLength="56.58" lengthAdjust="spacingAndGlyphs">-1</tspan><tspan x="-311.24" y="116.00" font-size="91.59" textLength="26.13" lengthAdjust="spacingAndGlyphs">]</tspan></text>
</g>
</g>
</svg></body></html>
